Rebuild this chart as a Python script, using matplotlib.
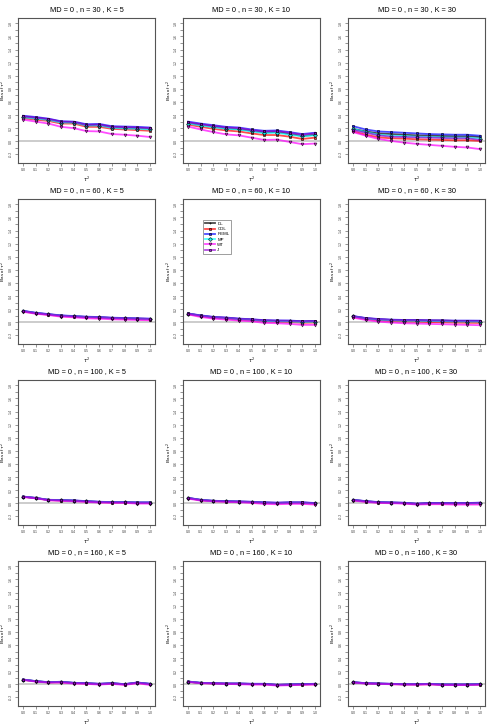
import matplotlib
matplotlib.use('Agg')
import matplotlib.pyplot as plt
import numpy as np

plt.rcParams['font.family'] = ['Liberation Sans', 'DejaVu Sans']

tau2 = [0.0, 0.1, 0.2, 0.3, 0.4, 0.5, 0.6, 0.7, 0.8, 0.9, 1.0]
methods = ['DL', 'CDL', 'REML', 'MP', 'WT', 'J']
n_values = [30, 60, 100, 160]
k_values = [5, 10, 30]

# rows: DL, CDL, REML, MP, WT, J
bias_n30_k5 = [
    [0.37, 0.355, 0.335, 0.295, 0.29, 0.245, 0.25, 0.215, 0.205, 0.20, 0.19],
    [0.35, 0.33, 0.31, 0.27, 0.27, 0.22, 0.22, 0.19, 0.18, 0.17, 0.16],
    [0.39, 0.37, 0.345, 0.305, 0.30, 0.26, 0.265, 0.23, 0.225, 0.22, 0.21],
    [0.365, 0.345, 0.325, 0.285, 0.285, 0.24, 0.24, 0.205, 0.195, 0.19, 0.18],
    [0.33, 0.30, 0.27, 0.22, 0.20, 0.155, 0.15, 0.11, 0.10, 0.085, 0.065],
    [0.38, 0.36, 0.34, 0.30, 0.295, 0.25, 0.255, 0.22, 0.215, 0.21, 0.20],
]
bias_n30_k10 = [
    [0.28, 0.25, 0.225, 0.195, 0.185, 0.16, 0.135, 0.14, 0.115, 0.08, 0.10],
    [0.255, 0.22, 0.19, 0.165, 0.15, 0.12, 0.095, 0.095, 0.07, 0.035, 0.055],
    [0.30, 0.27, 0.245, 0.22, 0.21, 0.18, 0.16, 0.165, 0.14, 0.11, 0.13],
    [0.27, 0.24, 0.215, 0.19, 0.18, 0.15, 0.125, 0.13, 0.10, 0.075, 0.09],
    [0.225, 0.18, 0.14, 0.105, 0.09, 0.055, 0.02, 0.025, -0.01, -0.045, -0.035],
    [0.29, 0.26, 0.235, 0.21, 0.20, 0.17, 0.15, 0.155, 0.13, 0.10, 0.12],
]
bias_n30_k30 = [
    [0.19, 0.15, 0.12, 0.11, 0.10, 0.09, 0.085, 0.08, 0.075, 0.075, 0.065],
    [0.15, 0.10, 0.06, 0.045, 0.04, 0.03, 0.025, 0.02, 0.015, 0.015, 0.005],
    [0.23, 0.18, 0.15, 0.14, 0.13, 0.12, 0.11, 0.105, 0.10, 0.10, 0.085],
    [0.19, 0.14, 0.10, 0.085, 0.08, 0.07, 0.065, 0.06, 0.055, 0.055, 0.04],
    [0.14, 0.085, 0.035, 0.005, -0.02, -0.04, -0.055, -0.07, -0.085, -0.095, -0.12],
    [0.17, 0.13, 0.09, 0.07, 0.065, 0.06, 0.055, 0.05, 0.045, 0.045, 0.02],
]
bias_n60_k5 = [
    [0.17, 0.14, 0.12, 0.10, 0.09, 0.08, 0.075, 0.065, 0.06, 0.055, 0.05],
    [0.165, 0.135, 0.115, 0.095, 0.085, 0.075, 0.068, 0.058, 0.052, 0.047, 0.042],
    [0.175, 0.145, 0.125, 0.105, 0.095, 0.085, 0.08, 0.07, 0.065, 0.06, 0.055],
    [0.17, 0.14, 0.12, 0.10, 0.09, 0.08, 0.073, 0.063, 0.058, 0.053, 0.048],
    [0.16, 0.13, 0.11, 0.085, 0.075, 0.06, 0.055, 0.045, 0.04, 0.035, 0.03],
    [0.172, 0.142, 0.122, 0.102, 0.092, 0.082, 0.077, 0.067, 0.062, 0.057, 0.052],
]
bias_n60_k10 = [
    [0.13, 0.10, 0.076, 0.066, 0.05, 0.04, 0.025, 0.02, 0.02, 0.01, 0.015],
    [0.125, 0.092, 0.068, 0.056, 0.038, 0.028, 0.012, 0.006, 0.004, -0.008, -0.005],
    [0.135, 0.105, 0.082, 0.072, 0.056, 0.046, 0.032, 0.028, 0.026, 0.016, 0.02],
    [0.128, 0.098, 0.074, 0.063, 0.046, 0.036, 0.02, 0.015, 0.013, 0.003, 0.008],
    [0.12, 0.08, 0.056, 0.04, 0.025, 0.015, -0.01, -0.015, -0.025, -0.04, -0.04],
    [0.132, 0.102, 0.079, 0.069, 0.053, 0.043, 0.029, 0.024, 0.023, 0.013, 0.018],
]
bias_n60_k30 = [
    [0.09, 0.06, 0.045, 0.035, 0.03, 0.03, 0.025, 0.025, 0.02, 0.02, 0.02],
    [0.08, 0.048, 0.028, 0.018, 0.01, 0.008, 0.003, 0.0, -0.005, -0.008, -0.01],
    [0.095, 0.065, 0.05, 0.04, 0.035, 0.033, 0.03, 0.028, 0.025, 0.025, 0.024],
    [0.088, 0.057, 0.04, 0.03, 0.024, 0.022, 0.018, 0.016, 0.012, 0.011, 0.01],
    [0.07, 0.035, 0.01, -0.005, -0.015, -0.02, -0.025, -0.03, -0.035, -0.04, -0.045],
    [0.092, 0.062, 0.047, 0.037, 0.032, 0.031, 0.027, 0.026, 0.022, 0.022, 0.021],
]
bias_n100_k5 = [
    [0.10, 0.08, 0.05, 0.046, 0.04, 0.03, 0.02, 0.015, 0.015, 0.01, 0.01],
    [0.098, 0.078, 0.048, 0.042, 0.036, 0.026, 0.016, 0.011, 0.011, 0.005, 0.005],
    [0.102, 0.082, 0.053, 0.049, 0.043, 0.033, 0.023, 0.018, 0.018, 0.013, 0.013],
    [0.10, 0.08, 0.05, 0.045, 0.039, 0.029, 0.019, 0.014, 0.014, 0.009, 0.009],
    [0.095, 0.075, 0.045, 0.035, 0.03, 0.02, 0.01, 0.005, 0.005, -0.005, -0.005],
    [0.101, 0.081, 0.051, 0.047, 0.041, 0.031, 0.021, 0.016, 0.016, 0.011, 0.011],
]
bias_n100_k10 = [
    [0.08, 0.05, 0.035, 0.03, 0.025, 0.02, 0.01, 0.005, 0.01, 0.01, 0.0],
    [0.077, 0.046, 0.031, 0.025, 0.02, 0.014, 0.003, -0.002, 0.003, 0.002, -0.008],
    [0.083, 0.053, 0.038, 0.033, 0.028, 0.023, 0.014, 0.009, 0.014, 0.014, 0.004],
    [0.079, 0.049, 0.034, 0.028, 0.023, 0.018, 0.008, 0.003, 0.008, 0.007, -0.002],
    [0.07, 0.04, 0.03, 0.02, 0.015, 0.005, -0.01, -0.015, -0.01, -0.01, -0.02],
    [0.081, 0.051, 0.036, 0.031, 0.026, 0.021, 0.012, 0.007, 0.012, 0.012, 0.002],
]
bias_n100_k30 = [
    [0.05, 0.03, 0.015, 0.01, 0.005, -0.01, 0.0, 0.0, 0.0, 0.0, 0.005],
    [0.045, 0.025, 0.01, 0.005, 0.0, -0.015, -0.006, -0.006, -0.007, -0.007, -0.003],
    [0.053, 0.033, 0.018, 0.013, 0.008, -0.006, 0.004, 0.004, 0.004, 0.004, 0.009],
    [0.048, 0.028, 0.013, 0.008, 0.003, -0.012, -0.003, -0.003, -0.003, -0.003, 0.001],
    [0.04, 0.02, 0.005, 0.0, -0.005, -0.02, -0.015, -0.015, -0.02, -0.02, -0.02],
    [0.051, 0.031, 0.016, 0.011, 0.006, -0.008, 0.002, 0.002, 0.002, 0.002, 0.007],
]
bias_n160_k5 = [
    [0.07, 0.046, 0.03, 0.036, 0.02, 0.015, 0.005, 0.015, 0.0, 0.025, 0.005],
    [0.068, 0.044, 0.028, 0.032, 0.017, 0.011, 0.001, 0.011, -0.004, 0.021, 0.0],
    [0.072, 0.048, 0.032, 0.038, 0.022, 0.017, 0.007, 0.017, 0.002, 0.027, 0.007],
    [0.07, 0.046, 0.03, 0.035, 0.019, 0.014, 0.004, 0.014, -0.001, 0.024, 0.004],
    [0.065, 0.04, 0.025, 0.025, 0.01, 0.005, -0.005, 0.005, -0.01, 0.015, -0.01],
    [0.071, 0.047, 0.031, 0.037, 0.021, 0.016, 0.006, 0.016, 0.001, 0.026, 0.006],
]
bias_n160_k10 = [
    [0.04, 0.02, 0.015, 0.01, 0.01, 0.005, 0.005, -0.01, -0.005, 0.0, 0.005],
    [0.038, 0.018, 0.012, 0.007, 0.006, 0.001, 0.0, -0.015, -0.01, -0.005, 0.0],
    [0.042, 0.022, 0.017, 0.012, 0.012, 0.007, 0.007, -0.008, -0.003, 0.002, 0.007],
    [0.04, 0.02, 0.014, 0.009, 0.009, 0.004, 0.003, -0.012, -0.007, -0.002, 0.003],
    [0.035, 0.015, 0.01, 0.005, 0.0, -0.005, -0.005, -0.02, -0.015, -0.01, -0.005],
    [0.041, 0.021, 0.016, 0.011, 0.011, 0.006, 0.006, -0.009, -0.004, 0.001, 0.006],
]
bias_n160_k30 = [
    [0.03, 0.015, 0.01, 0.005, 0.0, 0.0, 0.005, -0.005, -0.005, -0.005, 0.0],
    [0.028, 0.012, 0.007, 0.002, -0.003, -0.004, 0.001, -0.009, -0.009, -0.009, -0.004],
    [0.032, 0.017, 0.012, 0.007, 0.002, 0.002, 0.007, -0.003, -0.003, -0.003, 0.002],
    [0.03, 0.014, 0.009, 0.004, -0.001, -0.001, 0.004, -0.006, -0.006, -0.006, -0.001],
    [0.025, 0.01, 0.005, 0.0, -0.005, -0.008, -0.003, -0.012, -0.012, -0.012, -0.008],
    [0.031, 0.016, 0.011, 0.006, 0.001, 0.001, 0.006, -0.004, -0.004, -0.004, 0.001],
]

panels = [
    [bias_n30_k5, bias_n30_k10, bias_n30_k30],
    [bias_n60_k5, bias_n60_k10, bias_n60_k30],
    [bias_n100_k5, bias_n100_k10, bias_n100_k30],
    [bias_n160_k5, bias_n160_k10, bias_n160_k30],
]

colors = ['black', 'red', 'blue', 'cyan', 'magenta', 'darkviolet']
markers = ['+', 's', 's', 'D', 'v', 's']

W, H = 495, 726
fig = plt.figure(figsize=(W / 100, H / 100), dpi=100)

col_left = [18, 183, 348]
row_top = [18, 199, 380, 561]
box_w, box_h = 137, 145

for r, n in enumerate(n_values):
    for c, k in enumerate(k_values):
        ax = fig.add_axes([col_left[c] / W, 1 - (row_top[r] + box_h) / H, box_w / W, box_h / H])
        data = panels[r][c]
        ax.axhline(0, color='#cccccc', lw=1.4, zorder=1)
        for i, name in enumerate(methods):
            ax.plot(tau2, data[i], color=colors[i], lw=1.3, alpha=0.7,
                    marker=markers[i], ms=2.0, mec='black', mew=0.6,
                    mfc='black' if name == 'DL' else colors[i], label=name, zorder=3)
        ax.set_xlim(-0.04, 1.04)
        ax.set_ylim(-0.332, 1.882)
        ax.set_xticks(tau2)
        ax.set_xticklabels([f'{t:.1f}' for t in tau2], fontsize=2.6, color='#444444')
        yt = np.round(np.arange(-0.2, 1.81, 0.2), 1)
        ax.set_yticks(yt)
        ax.set_yticklabels([f'{v:.1f}' for v in yt], fontsize=2.6, rotation=90,
                           va='center', color='#444444')
        ax.set_yticks(np.round(np.arange(-0.3, 1.81, 0.2), 1)[1:], minor=True)
        ax.tick_params(axis='both', which='both', length=2, width=0.4,
                       colors='#444444', pad=1.5)
        for s in ax.spines.values():
            s.set_color('#555555')
            s.set_linewidth(0.8)
        ax.set_title(f'MD = 0 , n = {n} , K = {k}', fontsize=5.3, pad=5)
        ax.set_xlabel(r'$\tau^2$', fontsize=3.5, labelpad=2)
        ax.set_ylabel(r'Bias of $\tau^2$', fontsize=3.2)
        ax.yaxis.set_label_coords(-9.5 / box_w, 0.5)
        if r == 1 and c == 1:
            leg = ax.legend(loc='upper left', bbox_to_anchor=(0.13, 0.87),
                            fontsize=3.2, frameon=True, fancybox=False,
                            edgecolor='#555555', handlelength=2.2,
                            borderpad=0.4, labelspacing=0.25, handletextpad=0.6)
            leg.get_frame().set_linewidth(0.5)

fig.savefig('out.png', dpi=100)
